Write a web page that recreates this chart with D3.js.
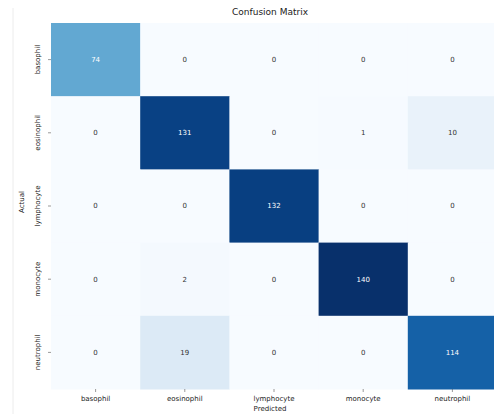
<!DOCTYPE html>
<html>
<head>
<meta charset="utf-8">
<script src="https://cdn.jsdelivr.net/npm/d3@7"></script>
<style>
  body { margin: 0; background: #fff; }
  text { font-family: "DejaVu Sans", sans-serif; }
</style>
</head>
<body>
<div id="chart"></div>
<script>
// class names, rows = actual, columns = predicted
const classes = ['basophil', 'eosinophil', 'lymphocyte', 'monocyte', 'neutrophil'];
const row_basophil   = [74, 0, 0, 0, 0];
const row_eosinophil = [0, 131, 0, 1, 10];
const row_lymphocyte = [0, 0, 132, 0, 0];
const row_monocyte   = [0, 2, 0, 140, 0];
const row_neutrophil = [0, 19, 0, 0, 114];
const matrix = [row_basophil, row_eosinophil, row_lymphocyte, row_monocyte, row_neutrophil];

var svgwidth = 494;
var svgheight = 414;

var svg = d3.select('#chart')
    .append('svg')
    .attr('width', svgwidth)
    .attr('height', svgheight);

// faint border line on the left edge of the figure
svg.append('line')
    .attr('x1', 13).attr('x2', 13)
    .attr('y1', 8).attr('y2', 414)
    .attr('stroke', '#ececec')
    .attr('stroke-width', 1);

var margin_left = 51, margin_top = 23;
var inner_width = 446, inner_height = 366;

var g = svg.append('g').attr('transform', `translate(${margin_left}, ${margin_top})`);

var xscale = d3.scaleBand().domain(classes).range([0, inner_width]);
var yscale = d3.scaleBand().domain(classes).range([0, inner_height]);

var vmax = d3.max(matrix.flat());
var color = d3.scaleSequential(d3.interpolateBlues).domain([0, vmax]);

var cells = [];
matrix.forEach((row, i) => row.forEach((v, j) => cells.push({ actual: classes[i], pred: classes[j], value: v })));

g.selectAll('rect')
    .data(cells)
    .join('rect')
    .attr('x', d => xscale(d.pred))
    .attr('y', d => yscale(d.actual))
    .attr('width', xscale.bandwidth() + 0.5)
    .attr('height', yscale.bandwidth() + 0.5)
    .attr('fill', d => color(d.value));

g.selectAll('text.annot')
    .data(cells)
    .join('text')
    .attr('class', 'annot')
    .attr('x', d => xscale(d.pred) + xscale.bandwidth() / 2)
    .attr('y', d => yscale(d.actual) + yscale.bandwidth() / 2)
    .attr('dy', '0.35em')
    .attr('text-anchor', 'middle')
    .attr('font-size', 7)
    .attr('fill', d => d.value / vmax > 0.45 ? '#ffffff' : '#333333')
    .text(d => d.value);

// x axis
var xaxis = d3.axisBottom(xscale).tickSize(3).tickPadding(4);
var gx = g.append('g')
    .attr('transform', `translate(0, ${inner_height})`)
    .call(xaxis);
gx.select('.domain').remove();
gx.selectAll('line').attr('stroke', '#555').attr('stroke-width', 0.6);
gx.selectAll('text').attr('font-size', 7).attr('fill', '#222');

// y axis, labels rotated
var yaxis = d3.axisLeft(yscale).tickSize(3).tickPadding(4);
var gy = g.append('g').call(yaxis);
gy.select('.domain').remove();
gy.selectAll('line').attr('stroke', '#555').attr('stroke-width', 0.6);
gy.selectAll('text')
    .attr('font-size', 7)
    .attr('fill', '#222')
    .attr('text-anchor', 'middle')
    .attr('transform', 'rotate(-90)')
    .attr('x', 0)
    .attr('y', -11)
    .attr('dy', 0);

// title
svg.append('text')
    .attr('x', margin_left + inner_width / 2 - 4)
    .attr('y', 15)
    .attr('text-anchor', 'middle')
    .attr('font-size', 9)
    .attr('fill', '#222')
    .text('Confusion Matrix');

// axis titles
svg.append('text')
    .attr('x', margin_left + inner_width / 2 - 4)
    .attr('y', 411)
    .attr('text-anchor', 'middle')
    .attr('font-size', 7)
    .attr('fill', '#222')
    .text('Predicted');

svg.append('text')
    .attr('transform', 'rotate(-90)')
    .attr('x', -(margin_top + inner_height / 2 - 4))
    .attr('y', 24)
    .attr('text-anchor', 'middle')
    .attr('font-size', 7)
    .attr('fill', '#222')
    .text('Actual');
</script>
</body>
</html>
